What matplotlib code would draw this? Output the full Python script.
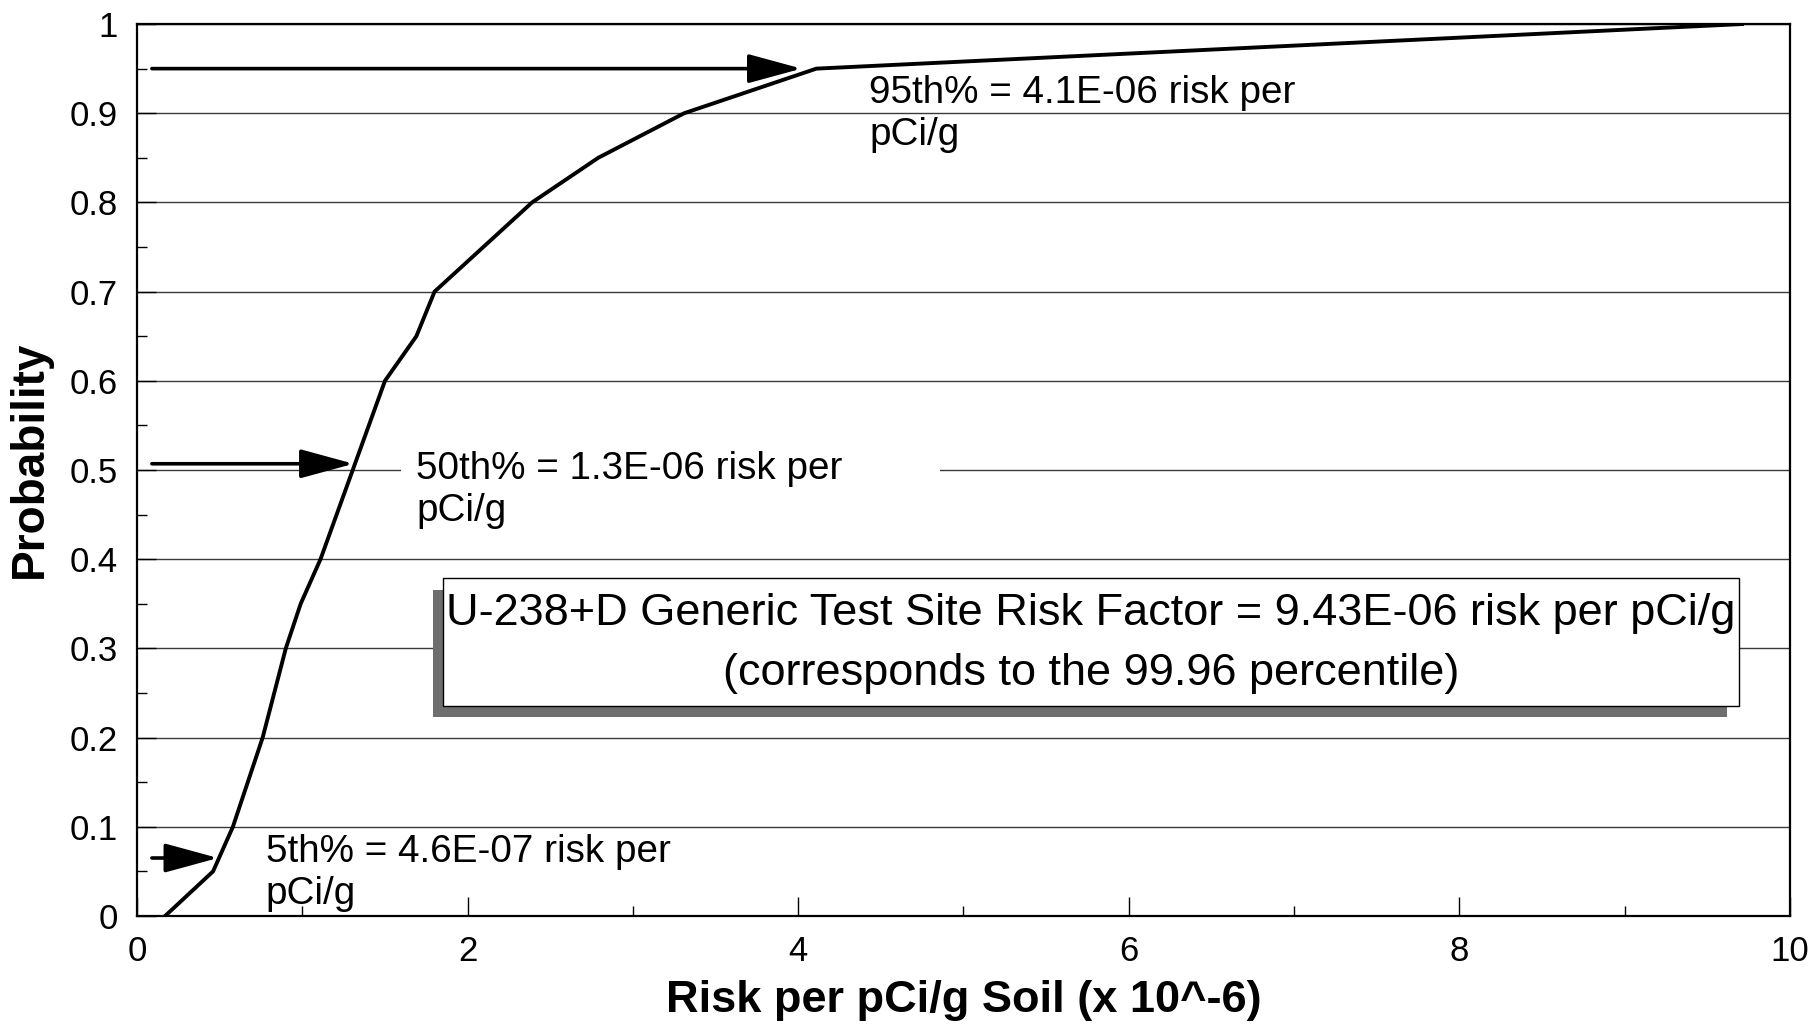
import matplotlib
matplotlib.use('Agg')
import matplotlib.pyplot as plt
import numpy as np
from matplotlib.patches import Rectangle

plt.rcParams['font.family'] = ['Liberation Sans', 'DejaVu Sans']

# Cumulative distribution (risk x 1e-6 per pCi/g vs probability)
risk = [0.17, 0.46, 0.58, 0.76, 0.90, 0.99, 1.11, 1.50, 1.69, 1.80, 2.39, 2.79, 3.31, 4.11, 9.71]
prob = [0.00, 0.05, 0.10, 0.20, 0.30, 0.35, 0.40, 0.60, 0.65, 0.70, 0.80, 0.85, 0.90, 0.95, 1.00]

# percentile markers
pct_labels = ["95th% = 4.1E-06 risk per", "50th% = 1.3E-06 risk per", "5th% = 4.6E-07 risk per"]
pct_arrow_y = [0.95, 0.507, 0.065]
pct_arrow_tip = [4.02, 1.31, 0.49]
pct_text_x = [4.43, 1.69, 0.78]
pct_base1 = [0.911, 0.490, 0.0605]
pct_base2 = [0.864, 0.443, 0.0135]

box_line1 = "U-238+D Generic Test Site Risk Factor = 9.43E-06 risk per pCi/g"
box_line2 = "(corresponds to the 99.96 percentile)"

yticks = [0, 0.1, 0.2, 0.3, 0.4, 0.5, 0.6, 0.7, 0.8, 0.9, 1.0]
ytick_labels = ["0", "0.1", "0.2", "0.3", "0.4", "0.5", "0.6", "0.7", "0.8", "0.9", "1"]
xticks = [0, 2, 4, 6, 8, 10]
xtick_labels = ["0", "2", "4", "6", "8", "10"]

fig = plt.figure(figsize=(18.15, 10.27), dpi=100)
ax = fig.add_axes([0.0755, 0.1081, 0.9107, 0.8685])
ax.set_xlim(0, 10)
ax.set_ylim(0, 1)

ax.set_yticks(yticks)
ax.set_yticklabels(ytick_labels)
ax.set_yticks(np.arange(0.05, 1.0, 0.1), minor=True)
ax.set_xticks(xticks)
ax.set_xticklabels(xtick_labels)
ax.set_xticks(np.arange(1, 10, 2), minor=True)

ax.tick_params(which='major', direction='in', length=14, width=1.0, labelsize=25, pad=14, colors='black')
ax.tick_params(which='minor', direction='in', length=7, width=1.0)
for s in ax.spines.values():
    s.set_linewidth(1.6)
    s.set_color('black')

ax.yaxis.grid(True, which='major', color='#3a3a3a', linewidth=1.0, zorder=1)
ax.set_axisbelow(True)

ax.set_xlabel("Risk per pCi/g Soil (x 10^-6)", fontsize=32.5, fontweight='bold', labelpad=8)
ax.set_ylabel("Probability", fontsize=33, fontweight='bold')
ax.yaxis.set_label_coords(-0.0514, 0.512)

# white background behind 50th label
ax.add_patch(Rectangle((1.60, 0.43), 3.26, 0.10, facecolor='white', edgecolor='none', zorder=2))

ax.plot(risk, prob, color='black', linewidth=2.8, zorder=4)

for lab, ay, tip, tx, b1, b2 in zip(pct_labels, pct_arrow_y, pct_arrow_tip, pct_text_x, pct_base1, pct_base2):
    ax.annotate('', xy=(tip, ay), xytext=(0.09, ay),
                arrowprops=dict(arrowstyle='-|>,head_length=33,head_width=9', mutation_scale=1,
                                color='black', linewidth=2.6, shrinkA=0, shrinkB=0),
                zorder=5)
    ax.text(tx, b1, lab, fontsize=27.8, ha='left', va='baseline', zorder=5)
    ax.text(tx, b2, "pCi/g", fontsize=27.8, ha='left', va='baseline', zorder=5)

# factor box with shadow
ax.add_patch(Rectangle((1.79, 0.223), 7.83, 0.143, facecolor='#6e6e6e', edgecolor='none', zorder=6))
ax.add_patch(Rectangle((1.85, 0.235), 7.84, 0.144, facecolor='white', edgecolor='black', linewidth=1.0, zorder=7))
ax.text(5.77, 0.326, box_line1, fontsize=32.5, ha='center', va='baseline', zorder=8)
ax.text(5.77, 0.259, box_line2, fontsize=32.5, ha='center', va='baseline', zorder=8)

fig.savefig('out.png', dpi=100)
